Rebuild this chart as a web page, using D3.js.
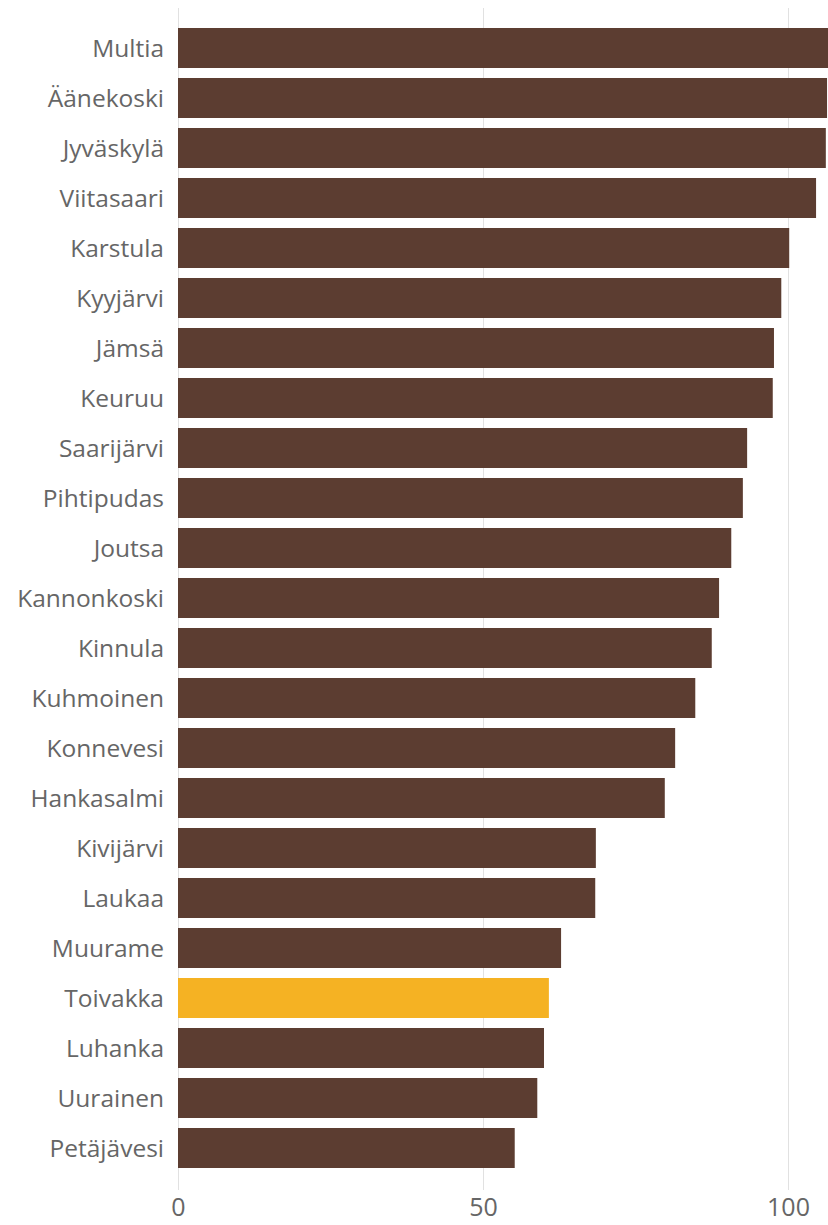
<!DOCTYPE html>
<html>
<head>
<meta charset="utf-8">
<script src="https://cdn.jsdelivr.net/npm/d3@7"></script>
<style>
  body { margin: 0; background: #fff; }
  text { font-family: "Open Sans", "Noto Sans", sans-serif; fill: #666666; }
  .axis path { display: none; }
  .axis line { stroke: #e1e1e1; }
</style>
</head>
<body>
<svg id="bar"></svg>
<script>
// svg size
const width = 828;
const height = 1225;

// municipalities, top to bottom
const names = [
  'Multia', 'Äänekoski', 'Jyväskylä', 'Viitasaari', 'Karstula', 'Kyyjärvi',
  'Jämsä', 'Keuruu', 'Saarijärvi', 'Pihtipudas', 'Joutsa', 'Kannonkoski',
  'Kinnula', 'Kuhmoinen', 'Konnevesi', 'Hankasalmi', 'Kivijärvi', 'Laukaa',
  'Muurame', 'Toivakka', 'Luhanka', 'Uurainen', 'Petäjävesi'
];

// values
const values = [
  107.0, 106.4, 106.2, 104.6, 100.2, 98.9,
  97.7, 97.5, 93.3, 92.6, 90.7, 88.7,
  87.5, 84.8, 81.5, 79.8, 68.5, 68.4,
  62.8, 60.8, 60.0, 58.9, 55.2
];

const highlighted = 'Toivakka';

const xTicks = [0, 50, 100];

const brown = '#5c3d31';
const yellow = '#f5b223';

const margin = {
  top: 23,
  bottom: 1225 - 1173,
  left: 178,
  right: 40
};

const svg = d3.select('#bar');
svg.attr('width', width);
svg.attr('height', height);

const scales = {
  x: d3.scaleLinear(),
  y: d3.scaleBand()
};

// 100 sits at x = 788
scales.x.domain([0, 100])
        .range([margin.left, 788]);

scales.y.domain(names)
        .range([margin.top, height - margin.bottom])
        .paddingInner(0.2)
        .paddingOuter(0.1);

drawGrid();
drawBars();
drawLabels();

/*
 * vertical gridlines and tick labels
 */
function drawGrid() {
  const group = svg.append('g')
                   .attr('class', 'axis')
                   .attr('transform', translate(0, 8));

  const axis = d3.axisBottom(scales.x)
                 .tickValues(xTicks)
                 .tickSizeInner(1182)
                 .tickSizeOuter(0)
                 .tickPadding(7);

  group.call(axis);

  group.selectAll('text')
       .attr('font-size', 25)
       .attr('font-family', null)
       .attr('fill', null)
       .attr('dy', '0.75em');
}

/*
 * horizontal bars
 */
function drawBars() {
  const group = svg.append('g').attr('id', 'bars');

  group.selectAll('rect')
       .data(names)
       .enter()
       .append('rect')
       .attr('x', scales.x(0))
       .attr('y', d => scales.y(d))
       .attr('width', (d, i) => scales.x(values[i]) - scales.x(0))
       .attr('height', scales.y.bandwidth())
       .attr('fill', d => d === highlighted ? yellow : brown);
}

/*
 * category labels left of the bars
 */
function drawLabels() {
  const group = svg.append('g').attr('id', 'labels');

  group.selectAll('text')
       .data(names)
       .enter()
       .append('text')
       .attr('x', 164)
       .attr('y', d => scales.y(d) + scales.y.bandwidth() / 2)
       .attr('dy', '0.35em')
       .attr('text-anchor', 'end')
       .attr('font-size', 24.5)
       .text(d => d);
}

function translate(x, y) {
  return 'translate(' + String(x) + ',' + String(y) + ')';
}
</script>
</body>
</html>
